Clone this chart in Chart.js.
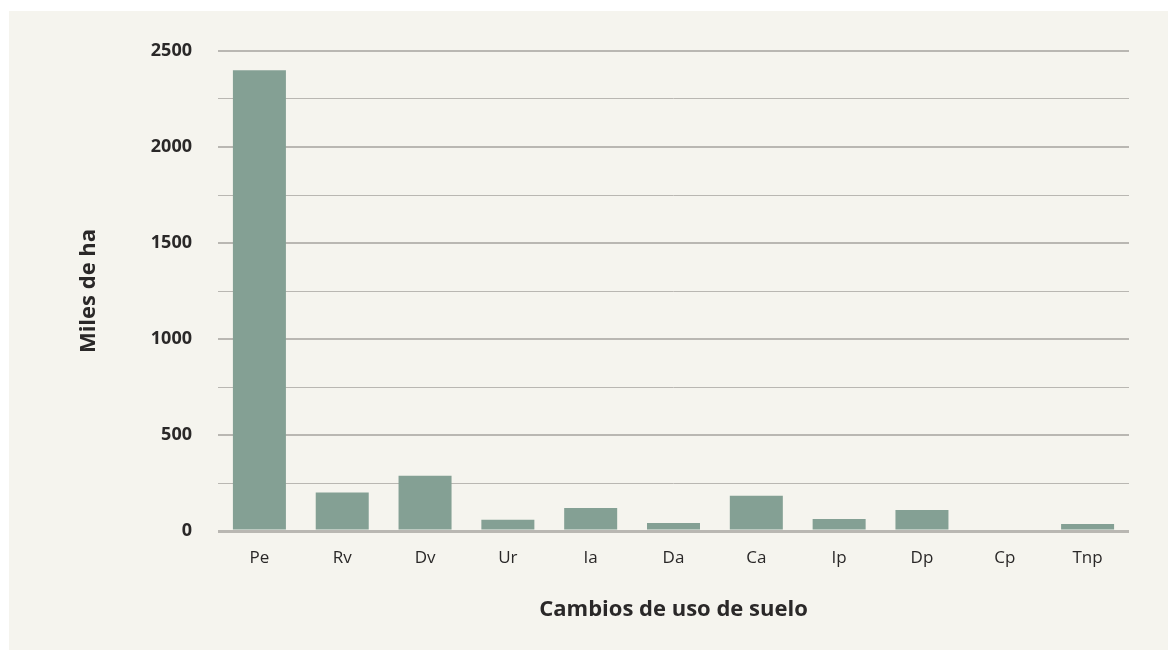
<!doctype html>
<html lang="es">
<head>
    <meta charset="utf-8">
    <title>Cambios de uso de suelo</title>
    <script src="https://cdn.jsdelivr.net/npm/chart.js@4/dist/chart.umd.min.js"></script>
    <style>
        html, body {
            margin: 0;
            padding: 0;
            background: #ffffff;
        }
        .panel {
            position: absolute;
            left: 9px;
            top: 11px;
            width: 1159px;
            height: 639px;
            background: #f5f4ee;
        }
    </style>
</head>
<body>
<div class="panel">
    <canvas id="usoCanvas" width="1159" height="639"></canvas>
</div>

<script>
    // categorias de cambio de uso de suelo y superficie (miles de ha)
    const labels = ['Pe', 'Rv', 'Dv', 'Ur', 'Ia', 'Da', 'Ca', 'Ip', 'Dp', 'Cp', 'Tnp'];
    const superficie = [2400, 200, 288, 58, 120, 42, 183, 63, 110, 0, 37];
    const yTicks = [0, 500, 1000, 1500, 2000, 2500];

    const gridColor = '#b9b7b2';
    const textColor = '#2a2828';

    new Chart(document.getElementById('usoCanvas'), {
        type: 'bar',
        data: {
            labels,
            datasets: [{
                label: 'Miles de ha',
                data: superficie,
                backgroundColor: '#84a094',
                borderWidth: 0,
                barPercentage: 0.64,
                categoryPercentage: 1
            }]
        },
        options: {
            responsive: false,
            animation: false,
            devicePixelRatio: 1,
            layout: {
                padding: {top: 40, right: 39, left: 0, bottom: 0}
            },
            plugins: {
                legend: {display: false},
                tooltip: {enabled: false}
            },
            scales: {
                x: {
                    grid: {display: false},
                    border: {display: false},
                    ticks: {
                        color: textColor,
                        padding: 9,
                        font: {family: 'Open Sans', size: 17}
                    },
                    title: {
                        display: true,
                        text: 'Cambios de uso de suelo',
                        color: textColor,
                        padding: {top: 0, bottom: 27},
                        font: {family: 'Open Sans', size: 22, weight: 'bold'}
                    },
                    afterFit: function (scale) {
                        scale.height = 119;
                    }
                },
                y: {
                    min: 0,
                    max: 2500,
                    border: {display: false},
                    grid: {
                        drawTicks: false,
                        color: gridColor,
                        lineWidth: function (ctx) {
                            if (ctx.tick.value === 0) return 3;
                            return ctx.tick.value % 500 === 0 ? 2 : 1;
                        }
                    },
                    ticks: {
                        stepSize: 250,
                        color: textColor,
                        padding: 26,
                        font: {family: 'Open Sans', size: 18, weight: 'bold'},
                        callback: function (value) {
                            return yTicks.includes(value) ? value : '';
                        }
                    },
                    title: {
                        display: true,
                        text: 'Miles de ha',
                        color: textColor,
                        padding: {top: 67, bottom: 0},
                        font: {family: 'Open Sans', size: 22, weight: 'bold'}
                    },
                    afterFit: function (scale) {
                        scale.width = 209;
                    }
                }
            }
        }
    });
</script>
</body>
</html>
